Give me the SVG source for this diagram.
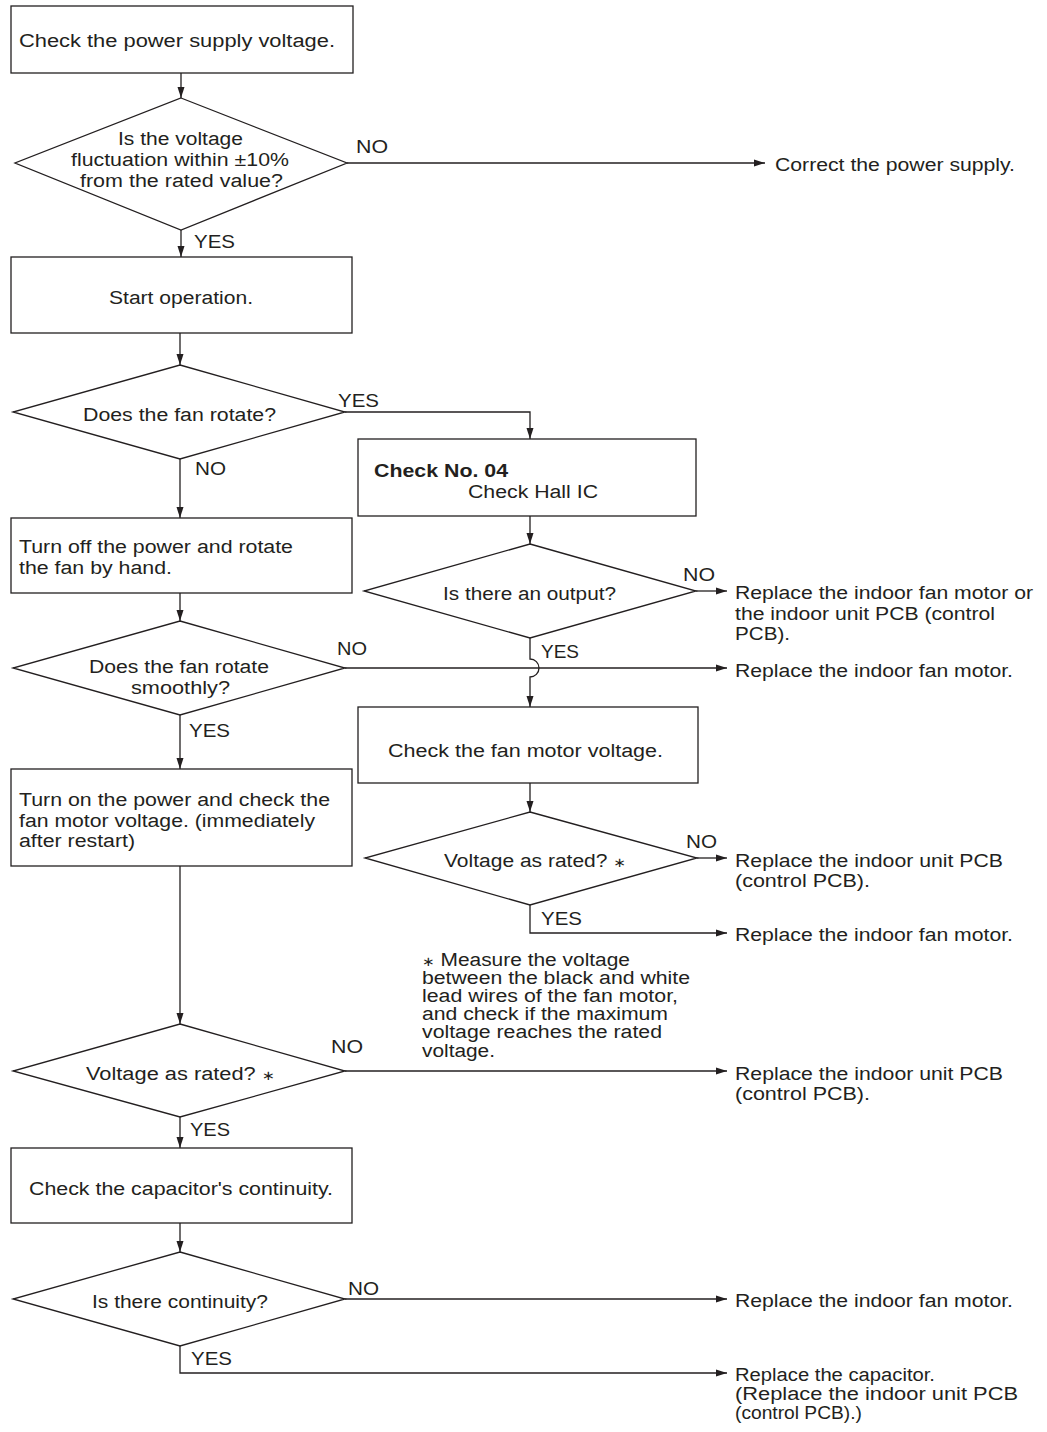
<svg xmlns="http://www.w3.org/2000/svg" width="1047" height="1432" viewBox="0 0 1047 1432">
<style>
text{font-family:"Liberation Sans",Arial,sans-serif;font-size:18px;fill:#231f20}
.b{font-weight:bold}
.ast{font-family:"DejaVu Sans",sans-serif;font-size:13px}
.box,.dia{fill:#fff;stroke:#231f20;stroke-width:1.3}
.ln{fill:none;stroke:#231f20;stroke-width:1.3;marker-end:url(#ah)}
</style>
<defs>
<marker id="ah" markerUnits="userSpaceOnUse" markerWidth="11" markerHeight="8" refX="11" refY="4" orient="auto">
<path d="M0,0.5 L11,4 L0,7.5 z" fill="#231f20"/>
</marker>
</defs>
<rect width="1047" height="1432" fill="#fff"/>

<g id="connectors">
<path class="ln" d="M181,73 V98"/>
<path class="ln" d="M347,163 H765"/>
<path class="ln" d="M181,230 V257"/>
<path class="ln" d="M180,333 V365"/>
<path class="ln" d="M345,412 H530 V439"/>
<path class="ln" d="M180,459 V518"/>
<path class="ln" d="M530,516 V544"/>
<path class="ln" d="M696,591 H727"/>
<path class="ln" d="M180,593 V621"/>
<path class="ln" d="M345,668 H727"/>
<path class="ln" d="M530,638 V659 A9,9 0 0 1 530,677 V707"/>
<path class="ln" d="M180,715 V769"/>
<path class="ln" d="M530,783 V812"/>
<path class="ln" d="M697,858 H727"/>
<path class="ln" d="M530,905 V933 H727"/>
<path class="ln" d="M180,866 V1024"/>
<path class="ln" d="M345,1071 H727"/>
<path class="ln" d="M180,1117 V1148"/>
<path class="ln" d="M180,1223 V1252"/>
<path class="ln" d="M345,1299 H727"/>
<path class="ln" d="M180,1346 V1373 H727"/>
<text x="356" y="153" textLength="32" lengthAdjust="spacingAndGlyphs">NO</text>
<text x="194" y="248" textLength="41" lengthAdjust="spacingAndGlyphs">YES</text>
<text x="338" y="407" textLength="41" lengthAdjust="spacingAndGlyphs">YES</text>
<text x="195" y="475" textLength="31" lengthAdjust="spacingAndGlyphs">NO</text>
<text x="683" y="581" textLength="32" lengthAdjust="spacingAndGlyphs">NO</text>
<text x="337" y="655" textLength="30" lengthAdjust="spacingAndGlyphs">NO</text>
<text x="541" y="658" textLength="38" lengthAdjust="spacingAndGlyphs">YES</text>
<text x="189" y="737" textLength="41" lengthAdjust="spacingAndGlyphs">YES</text>
<text x="686" y="848" textLength="31" lengthAdjust="spacingAndGlyphs">NO</text>
<text x="541" y="925" textLength="41" lengthAdjust="spacingAndGlyphs">YES</text>
<text x="331" y="1053" textLength="32" lengthAdjust="spacingAndGlyphs">NO</text>
<text x="190" y="1136" textLength="40" lengthAdjust="spacingAndGlyphs">YES</text>
<text x="348" y="1295" textLength="31" lengthAdjust="spacingAndGlyphs">NO</text>
<text x="191" y="1365" textLength="41" lengthAdjust="spacingAndGlyphs">YES</text>
</g>

<g id="n1">
<rect class="box" x="11" y="6" width="342" height="67"/>
<text x="19" y="47" textLength="316" lengthAdjust="spacingAndGlyphs">Check the power supply voltage.</text>
</g>
<g id="d1">
<polygon class="dia" points="181,98 347,163 181,230 15,163"/>
<text x="118" y="145" textLength="125" lengthAdjust="spacingAndGlyphs">Is the voltage</text>
<text x="71" y="166" textLength="218" lengthAdjust="spacingAndGlyphs">fluctuation within ±10%</text>
<text x="80" y="187" textLength="203" lengthAdjust="spacingAndGlyphs">from the rated value?</text>
</g>
<g id="t1">
<text x="775" y="171" textLength="240" lengthAdjust="spacingAndGlyphs">Correct the power supply.</text>
</g>
<g id="n2">
<rect class="box" x="11" y="257" width="341" height="76"/>
<text x="109" y="304" textLength="144" lengthAdjust="spacingAndGlyphs">Start operation.</text>
</g>
<g id="d2">
<polygon class="dia" points="180,365 345,412 180,459 13,412"/>
<text x="83" y="421" textLength="193" lengthAdjust="spacingAndGlyphs">Does the fan rotate?</text>
</g>
<g id="n3">
<rect class="box" x="358" y="439" width="338" height="77"/>
<text class="b" x="374" y="477" textLength="134" lengthAdjust="spacingAndGlyphs">Check No. 04</text>
<text x="468" y="498" textLength="130" lengthAdjust="spacingAndGlyphs">Check Hall IC</text>
</g>
<g id="d3">
<polygon class="dia" points="530,544 696,591 530,638 364,591"/>
<text x="443" y="600" textLength="173" lengthAdjust="spacingAndGlyphs">Is there an output?</text>
</g>
<g id="t2">
<text x="735" y="599" textLength="298" lengthAdjust="spacingAndGlyphs">Replace the indoor fan motor or</text>
<text x="735" y="620" textLength="260" lengthAdjust="spacingAndGlyphs">the indoor unit PCB (control</text>
<text x="735" y="640" textLength="55" lengthAdjust="spacingAndGlyphs">PCB).</text>
</g>
<g id="n4">
<rect class="box" x="11" y="518" width="341" height="75"/>
<text x="19" y="553" textLength="274" lengthAdjust="spacingAndGlyphs">Turn off the power and rotate</text>
<text x="19" y="574" textLength="153" lengthAdjust="spacingAndGlyphs">the fan by hand.</text>
</g>
<g id="d4">
<polygon class="dia" points="180,621 345,668 180,715 13,668"/>
<text x="89" y="673" textLength="180" lengthAdjust="spacingAndGlyphs">Does the fan rotate</text>
<text x="131" y="694" textLength="99" lengthAdjust="spacingAndGlyphs">smoothly?</text>
</g>
<g id="t3">
<text x="735" y="677" textLength="278" lengthAdjust="spacingAndGlyphs">Replace the indoor fan motor.</text>
</g>
<g id="n5">
<rect class="box" x="358" y="707" width="340" height="76"/>
<text x="388" y="757" textLength="275" lengthAdjust="spacingAndGlyphs">Check the fan motor voltage.</text>
</g>
<g id="n6">
<rect class="box" x="11" y="769" width="341" height="97"/>
<text x="19" y="806" textLength="311" lengthAdjust="spacingAndGlyphs">Turn on the power and check the</text>
<text x="19" y="827" textLength="296" lengthAdjust="spacingAndGlyphs">fan motor voltage. (immediately</text>
<text x="19" y="847" textLength="116" lengthAdjust="spacingAndGlyphs">after restart)</text>
</g>
<g id="d5">
<polygon class="dia" points="530,812 697,858 530,905 365,858"/>
<text x="444" y="867" textLength="182" lengthAdjust="spacingAndGlyphs">Voltage as rated? <tspan class="ast">∗</tspan></text>
</g>
<g id="t4">
<text x="735" y="867" textLength="268" lengthAdjust="spacingAndGlyphs">Replace the indoor unit PCB</text>
<text x="735" y="887" textLength="135" lengthAdjust="spacingAndGlyphs">(control PCB).</text>
</g>
<g id="t5">
<text x="735" y="941" textLength="278" lengthAdjust="spacingAndGlyphs">Replace the indoor fan motor.</text>
</g>
<g id="note">
<text x="422" y="966" textLength="208" lengthAdjust="spacingAndGlyphs"><tspan class="ast">∗</tspan> Measure the voltage</text>
<text x="422" y="984" textLength="268" lengthAdjust="spacingAndGlyphs">between the black and white</text>
<text x="422" y="1002" textLength="256" lengthAdjust="spacingAndGlyphs">lead wires of the fan motor,</text>
<text x="422" y="1020" textLength="246" lengthAdjust="spacingAndGlyphs">and check if the maximum</text>
<text x="422" y="1038" textLength="240" lengthAdjust="spacingAndGlyphs">voltage reaches the rated</text>
<text x="422" y="1057" textLength="73" lengthAdjust="spacingAndGlyphs">voltage.</text>
</g>
<g id="d6">
<polygon class="dia" points="180,1024 345,1071 180,1117 13,1071"/>
<text x="86" y="1080" textLength="189" lengthAdjust="spacingAndGlyphs">Voltage as rated? <tspan class="ast">∗</tspan></text>
</g>
<g id="t6">
<text x="735" y="1080" textLength="268" lengthAdjust="spacingAndGlyphs">Replace the indoor unit PCB</text>
<text x="735" y="1100" textLength="135" lengthAdjust="spacingAndGlyphs">(control PCB).</text>
</g>
<g id="n7">
<rect class="box" x="11" y="1148" width="341" height="75"/>
<text x="29" y="1195" textLength="304" lengthAdjust="spacingAndGlyphs">Check the capacitor's continuity.</text>
</g>
<g id="d7">
<polygon class="dia" points="180,1252 345,1299 180,1346 13,1299"/>
<text x="92" y="1308" textLength="176" lengthAdjust="spacingAndGlyphs">Is there continuity?</text>
</g>
<g id="t7">
<text x="735" y="1307" textLength="278" lengthAdjust="spacingAndGlyphs">Replace the indoor fan motor.</text>
</g>
<g id="t8">
<text x="735" y="1381" textLength="200" lengthAdjust="spacingAndGlyphs">Replace the capacitor.</text>
<text x="735" y="1400" textLength="283" lengthAdjust="spacingAndGlyphs">(Replace the indoor unit PCB</text>
<text x="735" y="1419" textLength="127" lengthAdjust="spacingAndGlyphs">(control PCB).)</text>
</g>
</svg>
